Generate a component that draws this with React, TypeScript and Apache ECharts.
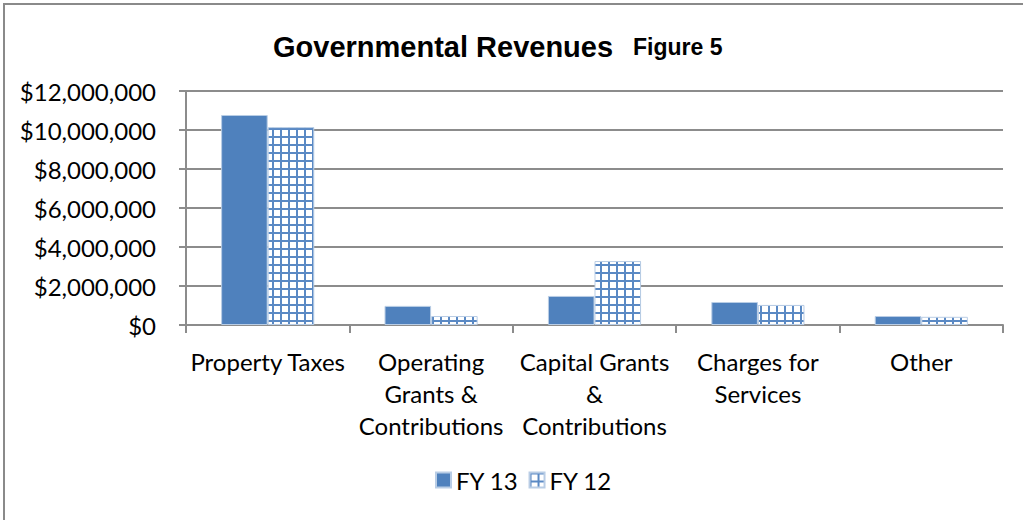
import React, { useEffect, useRef } from "react";
import * as echarts from "echarts";

const categories = [
  "Property Taxes",
  "Operating\nGrants &\nContributions",
  "Capital Grants\n&\nContributions",
  "Charges for\nServices",
  "Other",
];
const fy13 = [10770000, 980000, 1490000, 1180000, 460000];
const fy12 = [10150000, 460000, 3280000, 1030000, 420000];
const seriesNames = ["FY 13", "FY 12"];
const titleMain = "Governmental Revenues";
const titleSub = "Figure 5";

function makePattern() {
  const size = 8;
  const c = document.createElement("canvas");
  c.width = size;
  c.height = size;
  const ctx = c.getContext("2d")!;
  ctx.fillStyle = "#ffffff";
  ctx.fillRect(0, 0, size, size);
  ctx.fillStyle = "#5a89c4";
  ctx.fillRect(0, 0, 2, size);
  ctx.fillRect(0, 0, size, 2);
  return { image: c, repeat: "repeat", imageWidth: size, imageHeight: size } as any;
}

export default function App() {
  const ref = useRef<HTMLDivElement>(null);
  useEffect(() => {
    if (!ref.current) return;
    const chart = echarts.init(ref.current, undefined, { renderer: "svg" });
    const font = "Lato, 'Open Sans', sans-serif";
    const gray = "#8c8c8c";
    chart.setOption({
      animation: false,
      backgroundColor: "#ffffff",
      title: {
        text: `{a|${titleMain}}{b|${titleSub}}`,
        left: 268,
        top: 27,
        textStyle: {
          rich: {
            a: { fontFamily: "'Liberation Sans', Arial, sans-serif", fontWeight: "bold", fontSize: 29, color: "#000" },
            b: {
              fontFamily: "'Liberation Sans', Arial, sans-serif",
              fontWeight: "bold",
              fontSize: 23,
              color: "#000",
              padding: [0, 0, 0, 20],
            },
          },
        },
      },
      graphic: [
        {
          type: "rect",
          shape: { x: 4, y: 4, width: 1040, height: 540 },
          style: { fill: "none", stroke: "#8a8a8a", lineWidth: 2 },
          silent: true,
        },
      ],
      legend: {
        data: seriesNames,
        bottom: 23,
        left: 430,
        icon: "rect",
        itemWidth: 15,
        itemHeight: 15,
        itemGap: 10,
        textStyle: { fontFamily: font, fontSize: 24, color: "#000" },
      },
      grid: { left: 186, right: 20, top: 91, bottom: 195 },
      xAxis: {
        type: "category",
        data: categories,
        axisLine: { lineStyle: { color: gray, width: 2 } },
        axisTick: { show: true, length: 8, lineStyle: { color: gray, width: 2 } },
        axisLabel: {
          interval: 0,
          fontFamily: font,
          fontSize: 24,
          color: "#000",
          lineHeight: 32,
          margin: 20,
        },
      },
      yAxis: {
        type: "value",
        min: 0,
        max: 12000000,
        interval: 2000000,
        axisLine: { show: true, lineStyle: { color: gray, width: 2 } },
        axisTick: { show: true, length: 7, lineStyle: { color: gray, width: 2 } },
        splitLine: { lineStyle: { color: gray, width: 2 } },
        axisLabel: {
          fontFamily: font,
          fontSize: 24,
          color: "#000",
          margin: 30,
          formatter: (v: number) => "$" + v.toLocaleString("en-US"),
        },
      },
      series: [
        {
          name: seriesNames[0],
          type: "bar",
          data: fy13,
          barGap: "0%",
          barCategoryGap: "43%",
          itemStyle: { color: "#4f81bd", borderColor: "#b9cde5", borderWidth: 1 },
        },
        {
          name: seriesNames[1],
          type: "bar",
          data: fy12,
          itemStyle: { color: makePattern(), borderColor: "#b9cde5", borderWidth: 1 },
        },
      ],
    });
    return () => chart.dispose();
  }, []);
  return (
    <div
      ref={ref}
      style={{ position: "absolute", left: 0, top: 0, width: 1023, height: 520 }}
    />
  );
}
